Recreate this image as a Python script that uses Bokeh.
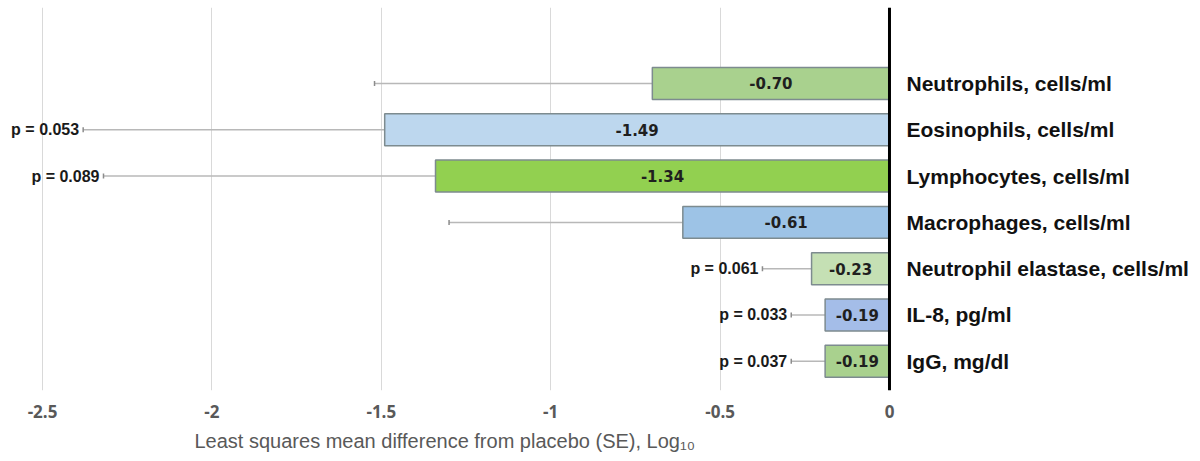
from bokeh.plotting import figure
from bokeh.models import (ColumnDataSource, Range1d, FixedTicker, Span, Whisker,
                          TeeHead, Title)
from bokeh.core.properties import value
from bokeh.embed import file_html
from bokeh.resources import INLINE

# ---- data -------------------------------------------------------------
categories = ["Neutrophils, cells/ml", "Eosinophils, cells/ml", "Lymphocytes, cells/ml",
              "Macrophages, cells/ml", "Neutrophil elastase, cells/ml", "IL-8, pg/ml",
              "IgG, mg/dl"]
diff = [-0.70, -1.49, -1.34, -0.61, -0.23, -0.19, -0.19]
se = [0.82, 0.89, 0.98, 0.69, 0.145, 0.10, 0.10]
p_values = ["", "p = 0.053", "p = 0.089", "", "p = 0.061", "p = 0.033", "p = 0.037"]
value_labels = ["-0.70", "-1.49", "-1.34", "-0.61", "-0.23", "-0.19", "-0.19"]
bar_colors = ["#a9d18e", "#bdd7ee", "#92d050", "#9dc3e6", "#c5e0b4", "#a4bde8", "#a9d18e"]
x_ticks = [-2.5, -2, -1.5, -1, -0.5, 0]
x_tick_labels = ["-2.5", "-2", "-1.5", "-1", "-0.5", "0"]
x_title = "Least squares mean difference from placebo (SE), Log\u2081\u2080"

n = len(categories)
ypos = [n - i for i in range(n)]
src = ColumnDataSource(dict(
    cat=categories, y=ypos, diff=diff,
    lo=[d - s for d, s in zip(diff, se)],
    mid=[d / 2 for d in diff],
    pv=p_values, vl=value_labels, color=bar_colors,
    zero=[0] * n,
))

p = figure(width=1200, height=461, output_backend="svg", toolbar_location=None,
           x_range=Range1d(-2.624, 0.918), y_range=Range1d(0.369, 8.641),
           min_border_left=0, min_border_right=0, min_border_top=7, min_border_bottom=71)
p.outline_line_color = None
p.background_fill_color = "white"
p.yaxis.visible = False
p.ygrid.visible = False

# x axis
ax = p.xaxis[0]
ax.ticker = FixedTicker(ticks=x_ticks)
ax.major_label_overrides = {t: l for t, l in zip(x_ticks, x_tick_labels)}
ax.axis_line_color = None
ax.major_tick_line_color = None
ax.minor_tick_line_color = None
ax.major_label_standoff = 8
ax.major_label_text_font = "Open Sans"
ax.major_label_text_font_size = "17px"
ax.major_label_text_font_style = "bold"
ax.major_label_text_color = "#595959"
p.xgrid.ticker = FixedTicker(ticks=x_ticks)
p.xgrid.grid_line_color = "#d9d9d9"
p.xgrid.grid_line_width = 1

# error whiskers (lower only)
wh = Whisker(source=src, base="y", lower="lo", upper="diff", dimension="width",
             line_color="#b8b8b8", line_width=1.5,
             lower_head=TeeHead(size=5, line_color="#8c8c8c", line_width=1.5),
             upper_head=None)
p.add_layout(wh)

# bars
p.hbar(y="y", left="diff", right="zero", height=0.69, source=src,
       fill_color="color", line_color="#7d8b8f", line_width=1.5)

# zero line
p.add_layout(Span(location=0, dimension="height", line_color="black", line_width=3))

# value labels
p.text(x="mid", y="y", text="vl", source=src, text_font=value("DejaVu Sans"),
       text_font_style="bold", text_font_size="15px", text_color="#1f1f1f",
       text_align="center", text_baseline="middle")

# p-values
p.text(x="lo", y="y", text="pv", source=src, text_font=value("Liberation Sans"),
       text_font_style="bold", text_font_size="16px", text_color="#1a1a1a",
       text_align="right", text_baseline="middle", x_offset=-4)

# category labels
p.text(x="zero", y="y", text="cat", source=src, text_font=value("Liberation Sans"),
       text_font_style="bold", text_font_size="21px", text_color="#111111",
       text_align="left", text_baseline="middle", x_offset=17)

# axis title
t = Title(text=x_title, align="left", offset=194, text_font="Liberation Sans",
          text_font_size="20px", text_font_style="normal", text_color="#595959",
          standoff=14)
p.add_layout(t, "below")

open("out.html", "w").write(file_html(p, INLINE))
